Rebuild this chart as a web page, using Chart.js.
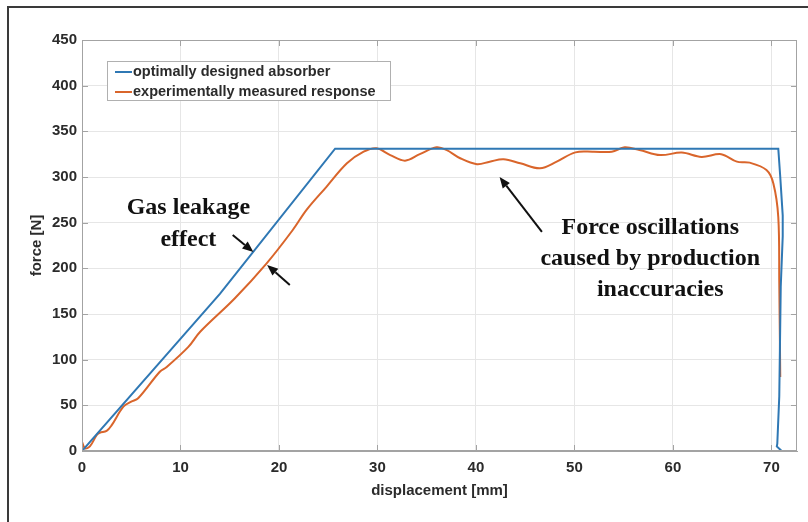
<!DOCTYPE html>
<html>
<head>
<title>Absorber force vs displacement</title>
<script src="https://cdn.jsdelivr.net/npm/chart.js"></script>
<style>
  body { margin: 0; background: #fff; }
</style>
</head>
<body>
<canvas id="force-chart" width="808" height="522"></canvas>
<script>
// optimally designed absorber
const designX = [0, 14, 25.7, 70.7, 70.9, 71.15, 71.15, 70.95, 70.8, 70.6, 70.55, 71.0];
const designF = [0, 172, 331, 331, 300, 258, 235, 180, 60, 8, 5, 0.5];

// experimentally measured response
const measuredX = [0, 0.3, 0.8, 1.5, 1.8, 2.5, 3.0, 4.2, 5.0, 5.7, 7.9, 8.6, 10.8, 12.0, 15.5, 18.75, 21.4,
  22.8, 24.8, 26.9, 28.6, 29.9, 31.3, 32.8, 34.3, 36.0, 37.0, 38.4, 40.1, 41.4, 42.8, 44.5, 46.5, 48.2,
  50.1, 51.9, 53.8, 55.1, 56.6, 58.7, 60.9, 62.9, 64.9, 66.5, 67.8, 69.5, 70.2, 70.7, 70.8, 70.9];
const measuredF = [10, 3, 5, 17.5, 20, 22, 28, 48.5, 54, 57.7, 86.8, 92, 114, 130.6, 167, 205.5, 242,
  264, 289, 315, 327.7, 331.4, 324, 317.9, 325, 332.5, 329.6, 320.5, 314, 316.8, 319.4, 315, 309.5, 316.8,
  327, 327.7, 327.7, 332.5, 329.6, 324, 326.7, 322, 325, 316.8, 315.7, 307.7, 293, 256, 184, 81];

const seriesLabels = ['optimally designed absorber', 'experimentally measured response'];
const seriesColors = ['#2f78b4', '#d9652b'];

const xTicks = [0, 10, 20, 30, 40, 50, 60, 70];
const yTicks = [0, 50, 100, 150, 200, 250, 300, 350, 400, 450];

// annotation text and arrows, in data units
const gasNote = { lines: ['Gas leakage', 'effect'], x: 10.8, y: 266 };
const oscNote = { lines: ['Force oscillations', 'caused by production', 'inaccuracies'], x: 57.7, y: 244 };
const arrows = [
  [15.3, 236.5, 17.4, 217.9],
  [21.1, 181.8, 18.8, 203.7],
  [46.7, 239.8, 42.4, 300]
];

const toPoints = (xs, ys) => xs.map((x, i) => ({ x: x, y: ys[i] }));

const axisColor = '#a3a3a3';
const textColor = '#2b2b2b';

function drawArrow(ctx, x1, y1, x2, y2) {
  const a = Math.atan2(y2 - y1, x2 - x1);
  const head = 11, half = 4.5;
  const bx = x2 - head * Math.cos(a), by = y2 - head * Math.sin(a);
  ctx.beginPath();
  ctx.moveTo(x1, y1);
  ctx.lineTo(bx, by);
  ctx.stroke();
  ctx.beginPath();
  ctx.moveTo(x2, y2);
  ctx.lineTo(bx + half * Math.sin(a), by - half * Math.cos(a));
  ctx.lineTo(bx - half * Math.sin(a), by + half * Math.cos(a));
  ctx.closePath();
  ctx.fill();
}

const decorations = {
  id: 'decorations',
  afterDraw(chart) {
    const ctx = chart.ctx;
    const { left, right, top, bottom } = chart.chartArea;
    const xs = chart.scales.x, ys = chart.scales.y;
    ctx.save();

    // box and inward tick marks
    ctx.strokeStyle = axisColor;
    ctx.lineWidth = 1;
    ctx.strokeRect(left + 0.5, top + 0.5, right - left - 1, bottom - top - 1);
    ctx.beginPath();
    xTicks.forEach(v => {
      const p = Math.round(xs.getPixelForValue(v)) + 0.5;
      ctx.moveTo(p, bottom); ctx.lineTo(p, bottom - 6);
      ctx.moveTo(p, top); ctx.lineTo(p, top + 6);
    });
    yTicks.forEach(v => {
      const p = Math.round(ys.getPixelForValue(v)) + 0.5;
      ctx.moveTo(left, p); ctx.lineTo(left + 6, p);
      ctx.moveTo(right, p); ctx.lineTo(right - 6, p);
    });
    ctx.stroke();

    // legend
    const lx = left + 25, ly = top + 21;
    ctx.fillStyle = '#fff';
    ctx.fillRect(lx, ly, 283, 39);
    ctx.strokeStyle = '#b0b0b0';
    ctx.strokeRect(lx + 0.5, ly + 0.5, 283, 39);
    ctx.font = 'bold 14.5px "Liberation Sans", Arial, sans-serif';
    ctx.textBaseline = 'middle';
    chart.data.datasets.forEach((ds, i) => {
      const yy = ly + 11 + i * 20;
      ctx.strokeStyle = ds.borderColor;
      ctx.lineWidth = 2;
      ctx.beginPath(); ctx.moveTo(lx + 8, yy); ctx.lineTo(lx + 25, yy); ctx.stroke();
      ctx.fillStyle = textColor;
      ctx.fillText(ds.label, lx + 26, yy);
    });

    // annotations
    ctx.fillStyle = '#111';
    ctx.strokeStyle = '#111';
    ctx.lineWidth = 2;
    ctx.font = 'bold 24px "Liberation Serif", "Times New Roman", serif';
    ctx.textAlign = 'center';
    const gx = xs.getPixelForValue(gasNote.x), gy = ys.getPixelForValue(gasNote.y);
    gasNote.lines.forEach((t, i) => ctx.fillText(t, gx, gy + i * 32));
    const ox = xs.getPixelForValue(oscNote.x), oy = ys.getPixelForValue(oscNote.y);
    ctx.save();
    // last line of this note is cut along its baseline
    ctx.beginPath();
    ctx.rect(left, top, right - left, oy + 2 * 31 + 6 - top);
    ctx.clip();
    oscNote.lines.forEach((t, i) => ctx.fillText(t, ox + (i === 2 ? 10 : 0), oy + i * 31));
    ctx.restore();
    arrows.forEach(a => drawArrow(ctx,
      xs.getPixelForValue(a[0]), ys.getPixelForValue(a[1]),
      xs.getPixelForValue(a[2]), ys.getPixelForValue(a[3])));

    // outer figure frame
    ctx.strokeStyle = '#3a3a3a';
    ctx.lineWidth = 2;
    ctx.beginPath();
    ctx.moveTo(8, 522); ctx.lineTo(8, 7); ctx.lineTo(808, 7);
    ctx.stroke();
    ctx.restore();
  }
};

const tickFont = { family: '"Liberation Sans", Arial, sans-serif', size: 15, weight: 'bold' };

new Chart(document.getElementById('force-chart'), {
  type: 'scatter',
  data: {
    datasets: [
      {
        label: seriesLabels[0],
        data: toPoints(designX, designF),
        showLine: true,
        borderColor: seriesColors[0],
        borderWidth: 2,
        pointRadius: 0,
        tension: 0
      },
      {
        label: seriesLabels[1],
        data: toPoints(measuredX, measuredF),
        showLine: true,
        borderColor: seriesColors[1],
        borderWidth: 2,
        pointRadius: 0,
        tension: 0.35
      }
    ]
  },
  options: {
    responsive: false,
    animation: false,
    devicePixelRatio: 1,
    layout: { padding: { top: 40, right: 11, bottom: 0, left: 0 } },
    plugins: { legend: { display: false }, tooltip: { enabled: false } },
    scales: {
      x: {
        type: 'linear',
        min: 0,
        max: 72.6,
        afterFit: s => { s.height = 71; },
        afterBuildTicks: s => { s.ticks = xTicks.map(v => ({ value: v })); },
        grid: { color: '#e6e6e6', drawTicks: false },
        border: { color: axisColor },
        ticks: { font: tickFont, color: textColor, padding: 8, maxRotation: 0 },
        title: { display: true, text: 'displacement [mm]', font: tickFont, color: textColor, padding: { bottom: 22 } }
      },
      y: {
        type: 'linear',
        min: 0,
        max: 450,
        afterFit: s => { s.width = 82; },
        afterBuildTicks: s => { s.ticks = yTicks.map(v => ({ value: v })); },
        grid: { color: '#e6e6e6', drawTicks: false },
        border: { color: axisColor },
        ticks: { font: tickFont, color: textColor, padding: 5 },
        title: { display: true, text: 'force [N]', font: tickFont, color: textColor, padding: { top: 28 } }
      }
    }
  },
  plugins: [decorations]
});
</script>
</body>
</html>
